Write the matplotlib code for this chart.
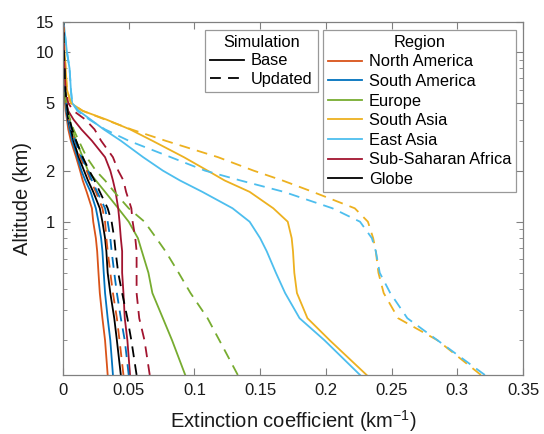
import matplotlib
matplotlib.use("Agg")
import matplotlib.pyplot as plt
from matplotlib.lines import Line2D
from matplotlib.ticker import FixedLocator, NullFormatter

plt.rcParams["font.family"] = ["Liberation Sans", "DejaVu Sans"]

# ---------- Data ----------
ALT = [0.125, 0.2, 0.27, 0.38, 0.5, 0.67, 0.8, 1.0, 1.2, 1.5, 1.75,
       2.0, 2.4, 3.0, 3.5, 4.0, 4.5, 5.0, 6.0, 8.0, 10.0, 15.0]

REGIONS = ["North America", "South America", "Europe", "South Asia",
           "East Asia", "Sub-Saharan Africa", "Globe"]
COLORS = ["#D95319", "#0072BD", "#77AC30", "#EDB120", "#4DBEEE", "#A2142F", "#000000"]

na_base = [0.034, 0.032, 0.030, 0.028, 0.027, 0.026, 0.025, 0.023, 0.022, 0.018, 0.015,
           0.013, 0.010, 0.006, 0.004, 0.003, 0.002, 0.0015, 0.001, 0.0008, 0.0005, 0.0002]
na_upd = [0.046, 0.043, 0.041, 0.038, 0.036, 0.034, 0.033, 0.032, 0.030, 0.025, 0.021,
          0.018, 0.013, 0.009, 0.006, 0.0045, 0.003, 0.0025, 0.0015, 0.001, 0.0007, 0.0003]
sa_base = [0.038, 0.036, 0.034, 0.032, 0.031, 0.030, 0.029, 0.027, 0.025, 0.021, 0.017,
           0.014, 0.011, 0.007, 0.005, 0.0035, 0.0025, 0.002, 0.0012, 0.0008, 0.0005, 0.0002]
sa_upd = [0.050, 0.047, 0.044, 0.041, 0.039, 0.037, 0.036, 0.034, 0.032, 0.026, 0.022,
          0.019, 0.014, 0.009, 0.0065, 0.0045, 0.003, 0.0025, 0.0015, 0.001, 0.0007, 0.0003]
eu_base = [0.093, 0.083, 0.076, 0.068, 0.065, 0.060, 0.057, 0.050, 0.042, 0.032, 0.025,
           0.019, 0.015, 0.010, 0.007, 0.005, 0.003, 0.002, 0.0014, 0.001, 0.0007, 0.0003]
eu_upd = [0.133, 0.119, 0.110, 0.097, 0.088, 0.078, 0.071, 0.062, 0.050, 0.039, 0.032,
          0.025, 0.018, 0.012, 0.008, 0.0055, 0.0035, 0.0025, 0.0015, 0.001, 0.0007, 0.0003]
sas_base = [0.231, 0.203, 0.186, 0.178, 0.176, 0.175, 0.174, 0.171, 0.160, 0.142, 0.123,
            0.110, 0.092, 0.068, 0.051, 0.033, 0.015, 0.006, 0.003, 0.002, 0.0012, 0.0005]
sas_upd = [0.318, 0.285, 0.255, 0.244, 0.240, 0.238, 0.236, 0.232, 0.222, 0.190, 0.167,
           0.145, 0.118, 0.078, 0.052, 0.032, 0.015, 0.006, 0.003, 0.002, 0.0012, 0.0005]
ea_base = [0.226, 0.199, 0.180, 0.169, 0.162, 0.155, 0.150, 0.142, 0.129, 0.106, 0.089,
           0.076, 0.061, 0.044, 0.031, 0.021, 0.012, 0.007, 0.006, 0.005, 0.003, 0.0005]
ea_upd = [0.321, 0.285, 0.262, 0.249, 0.241, 0.238, 0.235, 0.226, 0.205, 0.168, 0.135,
          0.108, 0.082, 0.050, 0.032, 0.020, 0.011, 0.007, 0.006, 0.005, 0.003, 0.0005]
ssa_base = [0.051, 0.049, 0.047, 0.046, 0.045, 0.045, 0.044, 0.043, 0.042, 0.040, 0.038,
            0.036, 0.032, 0.022, 0.014, 0.008, 0.004, 0.0025, 0.0015, 0.001, 0.0007, 0.0003]
ssa_upd = [0.066, 0.062, 0.058, 0.056, 0.056, 0.056, 0.055, 0.053, 0.052, 0.048, 0.046,
           0.042, 0.038, 0.029, 0.024, 0.017, 0.008, 0.004, 0.002, 0.0012, 0.0008, 0.0003]
gl_base = [0.044, 0.041, 0.039, 0.036, 0.034, 0.033, 0.032, 0.030, 0.028, 0.023, 0.019,
           0.016, 0.012, 0.008, 0.006, 0.004, 0.003, 0.0025, 0.0015, 0.001, 0.0007, 0.0003]
gl_upd = [0.056, 0.052, 0.049, 0.045, 0.042, 0.040, 0.039, 0.037, 0.034, 0.028, 0.024,
          0.020, 0.015, 0.010, 0.007, 0.005, 0.0035, 0.0028, 0.0018, 0.0012, 0.0008, 0.0003]

BASE = [na_base, sa_base, eu_base, sas_base, ea_base, ssa_base, gl_base]
UPDATED = [na_upd, sa_upd, eu_upd, sas_upd, ea_upd, ssa_upd, gl_upd]

X_TICKS = [0, 0.05, 0.1, 0.15, 0.2, 0.25, 0.3, 0.35]
X_LABELS = ["0", "0.05", "0.1", "0.15", "0.2", "0.25", "0.3", "0.35"]
Y_TICKS = [1, 2, 5, 10, 15]
Y_MINOR = [0.2, 0.3, 0.4, 0.5, 0.6, 0.7, 0.8, 0.9, 3, 4, 6, 7, 8, 9]

# ---------- Figure ----------
fig = plt.figure(figsize=(5.44, 4.34), dpi=100)
ax = fig.add_axes([0.1158, 0.136, 0.8456, 0.813])

lw = 1.3
dash = (0, (6, 4))
for vals, c in zip(BASE, COLORS):
    ax.plot(vals, ALT, color=c, lw=lw, ls="-")
for vals, c in zip(UPDATED, COLORS):
    ax.plot(vals, ALT, color=c, lw=lw, ls=dash)

ax.set_yscale("log")
ax.set_xlim(0, 0.35)
ax.set_ylim(0.125, 15)
ax.xaxis.set_major_locator(FixedLocator(X_TICKS))
ax.set_xticklabels(X_LABELS)
ax.yaxis.set_major_locator(FixedLocator(Y_TICKS))
ax.set_yticklabels([str(t) for t in Y_TICKS])
ax.yaxis.set_minor_locator(FixedLocator(Y_MINOR))
ax.yaxis.set_minor_formatter(NullFormatter())

spine_c = "#808080"
for s in ax.spines.values():
    s.set_color(spine_c)
    s.set_linewidth(0.9)
ax.tick_params(which="both", direction="in", top=True, right=True,
               color=spine_c, labelsize=12, labelcolor="#1a1a1a")
ax.tick_params(which="major", length=5, width=0.8, pad=6)
ax.tick_params(which="minor", length=3, width=0.6)

ax.set_xlabel("Extinction coefficient (km$^{\\mathregular{-1}}$)", fontsize=14.5,
              color="#1a1a1a", labelpad=7)
ax.set_ylabel("Altitude (km)", fontsize=14.5, color="#1a1a1a", labelpad=3)

# ---------- Legends ----------
sim_handles = [Line2D([], [], color="k", lw=lw, ls="-"),
               Line2D([], [], color="k", lw=lw, ls=dash)]
leg1 = fig.legend(sim_handles, ["Base", "Updated"], title="Simulation",
                  loc="upper left", bbox_to_anchor=(0.377, 0.931),
                  fontsize=11.8, title_fontsize=11.8, frameon=True, fancybox=False,
                  edgecolor=spine_c, handlelength=2.1, handletextpad=0.4,
                  borderpad=0.3, labelspacing=0.22, borderaxespad=0)
leg1.get_frame().set_linewidth(0.9)

reg_handles = [Line2D([], [], color=c, lw=lw) for c in COLORS]
leg2 = fig.legend(reg_handles, REGIONS, title="Region",
                  loc="upper left", bbox_to_anchor=(0.594, 0.931),
                  fontsize=11.8, title_fontsize=11.8, frameon=True, fancybox=False,
                  edgecolor=spine_c, handlelength=2.1, handletextpad=0.4,
                  borderpad=0.3, labelspacing=0.28, borderaxespad=0)
leg2.get_frame().set_linewidth(0.9)

fig.savefig("out.png", dpi=100)
